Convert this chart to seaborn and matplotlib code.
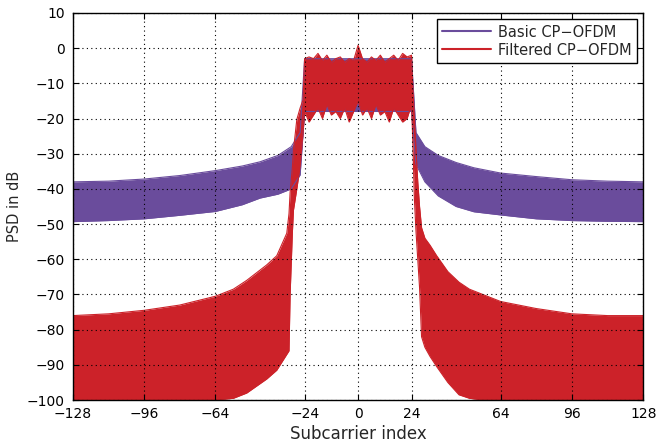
import numpy as np
import seaborn as sns
import matplotlib
matplotlib.use('Agg')
import matplotlib.pyplot as plt

# values (envelope of the fast PSD ripple, in dB)
basic_x = [-128, -112, -96, -80, -64, -52, -44, -36, -30, -26, -24,
           24, 26, 30, 36, 44, 52, 64, 80, 96, 112, 128]
basic_upper = [-38, -37.8, -37.2, -36.2, -34.8, -33.5, -32.3, -30.5, -28, -24, -3,
               -3, -24, -28, -30.5, -32.5, -34, -35.5, -36.5, -37.4, -37.8, -38]
basic_lower = [-49.3, -49, -48.5, -47.5, -46.4, -44.5, -42.6, -41.5, -40, -36, -18,
               -18, -33, -38, -42, -45, -46.5, -47.4, -48.5, -49, -49.2, -49.3]

filt_x = [-128, -112, -96, -80, -64, -56, -50, -41, -36.5, -32, -31, -30.5, -29.5,
          -29, -27.5, -26, -24.7, -24,
          -22, -20, -18, -16, -14, -12, -10, -8, -6, -4, -2, 0,
          2, 4, 6, 8, 10, 12, 14, 16, 18, 20, 22,
          24, 24.5, 25.3, 26, 26.8, 27.6, 28.5, 30, 32.3, 35.3, 40.3, 45.3,
          50, 56, 64, 80, 96, 112, 128]
filt_upper = [-76, -75.5, -74.5, -73, -70.5, -68.5, -66, -61.6, -59, -52.6, -47, -41, -34,
              -29, -20.3, -17, -14.7, -3,
              -2.5, -3, -1.5, -3.5, -2, -4, -3, -2.5, -4, -3, -3.5, 0.8,
              -3, -4, -2.5, -3.5, -2, -4, -3, -2, -3.5, -1.5, -2.5,
              -2, -10, -20, -29, -38, -45, -51, -54, -56, -59, -63.5, -66.5,
              -68.5, -70, -72, -74, -75.5, -76, -76]
filt_lower = [-100, -100, -100, -100, -100, -99.5, -98, -94, -91.5, -87, -86, -70, -52.5,
              -46, -40, -33.5, -24, -18,
              -21, -19, -17, -20, -16, -19, -18, -20, -17, -21, -18, -15,
              -19, -17, -20, -16, -19, -18, -21, -17, -19, -21, -20,
              -16, -25, -43, -52, -60, -68, -82, -85, -87.6, -90.5, -95, -98.5,
              -99.5, -100, -100, -100, -100, -100, -100]

series_names = ['Basic CP\u2212OFDM', 'Filtered CP\u2212OFDM']
series_colors = ['#6a4c9c', '#cc2229']

x_ticks = [-128, -96, -64, -24, 0, 24, 64, 96, 128]
y_ticks = list(range(-100, 11, 10))

sns.set_style('ticks')
plt.rcParams['font.family'] = ['DejaVu Sans']
plt.rcParams['axes.unicode_minus'] = True

fig, ax = plt.subplots(figsize=(6.57, 4.46), dpi=100)
fig.subplots_adjust(left=0.111, right=0.979, top=0.971, bottom=0.103)

data = [(basic_x, basic_upper, basic_lower), (filt_x, filt_upper, filt_lower)]
for (xs, up, lo), name, col in zip(data, series_names, series_colors):
    ax.fill_between(xs, lo, up, color=col, lw=0, zorder=1)
    sns.lineplot(x=xs, y=up, color=col, lw=0.8, label=name, ax=ax, zorder=1.5)
    sns.lineplot(x=xs, y=lo, color=col, lw=0.8, ax=ax, zorder=1.5)

ax.set_xlim(-128, 128)
ax.set_ylim(-100, 10)
ax.set_xticks(x_ticks)
ax.set_yticks(y_ticks)
ax.set_xlabel('Subcarrier index', fontsize=12, labelpad=3)
ax.set_ylabel('PSD in dB', fontsize=10.5, labelpad=3)
ax.tick_params(direction='in', top=True, right=True, length=4, width=0.8,
               labelsize=10, colors='black')
ax.tick_params(axis='x', pad=5)
ax.tick_params(axis='y', pad=6)
for s in ax.spines.values():
    s.set_linewidth(1.0)
    s.set_color('black')

ax.set_axisbelow(False)
ax.grid(True, color='black', linestyle=(0, (1, 3)), linewidth=0.8)

leg = ax.legend(loc='upper right', fontsize=10.5, handlelength=3.3, frameon=True,
                fancybox=False, framealpha=1, edgecolor='black',
                borderaxespad=0.45, borderpad=0.35, labelspacing=0.2,
                handletextpad=0.5)
leg.get_frame().set_linewidth(1.0)
for h in leg.get_lines():
    h.set_linewidth(1.5)

fig.savefig('out.png', dpi=100)
